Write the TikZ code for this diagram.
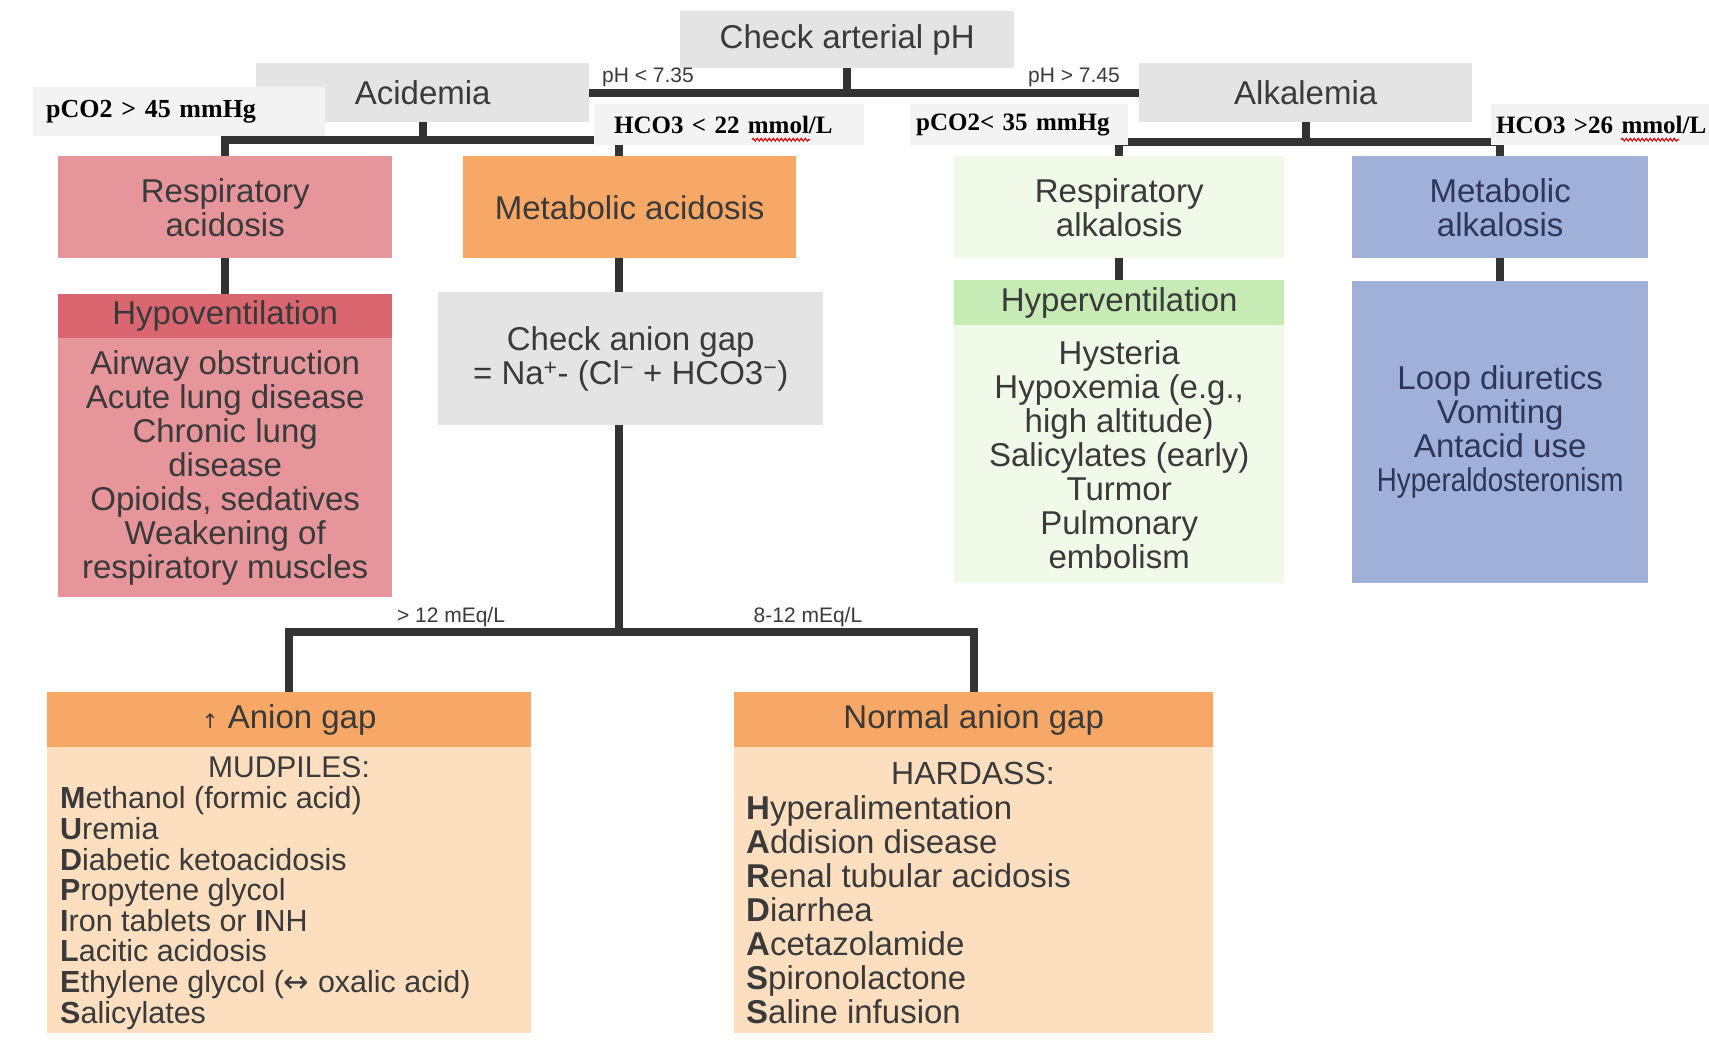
\documentclass[tikz,border=0pt]{standalone}
\usepackage{fontspec}
\setmainfont{Liberation Sans}
\newfontfamily\serifb{Liberation Serif}[BoldFont={Liberation Serif Bold}]
\newfontfamily\dejavu{DejaVu Sans}
\usetikzlibrary{decorations.pathmorphing}
\pgfdeclarelayer{background}
\pgfsetlayers{background,main}
\definecolor{boxgray}{HTML}{E4E4E4}
\definecolor{labgray}{HTML}{F3F3F3}
\definecolor{pinkbox}{HTML}{E6959B}
\definecolor{pinkhead}{HTML}{DA6670}
\definecolor{orangebox}{HTML}{F7A766}
\definecolor{peach}{HTML}{FDDFBF}
\definecolor{greenlight}{HTML}{F1FAE9}
\definecolor{greenhead}{HTML}{C7EBB5}
\definecolor{bluebox}{HTML}{A0B0D9}
\definecolor{txt}{HTML}{3A3A3A}
\definecolor{bluetxt}{HTML}{2D3658}
\definecolor{linecol}{HTML}{333333}
\begin{document}
\begin{tikzpicture}[x=1pt,y=-1pt,
  box/.style={inner sep=0pt, anchor=north west, align=center, text=txt,
    font=\fontsize{33}{34}\selectfont},
  lab/.style={fill=labgray, anchor=north west, inner ysep=0pt, align=left,
    text=black, font=\serifb\bfseries\fontsize{25}{26}\selectfont},
  small/.style={text=txt, font=\fontsize{21}{22}\selectfont, inner sep=0pt},
  conn/.style={line width=8pt, draw=linecol, line cap=rect, line join=miter},
  wavy/.style={draw=red!85!black, line width=1.1pt, decorate,
    decoration={snake, amplitude=1.4pt, segment length=4pt}}]
\useasboundingbox (0,0) rectangle (1709,1061);

% top level
\node[box, fill=boxgray, minimum width=334, minimum height=57] (ph) at (680,11) {Check arterial pH};
\node[box, fill=boxgray, minimum width=333, minimum height=59] (acid) at (256,63) {Acidemia};
\node[box, fill=boxgray, minimum width=333, minimum height=59] (alk) at (1139,63) {Alkalemia};

\node[small] (phlow) at (648,77) {pH < 7.35};
\node[small] (phhigh) at (1074,77) {pH > 7.45};

% second row
\node[box, fill=pinkbox, minimum width=334, minimum height=102] (ra) at (58,156) {Respiratory\\acidosis};
\node[box, fill=orangebox, minimum width=333, minimum height=102] (ma) at (463,156) {Metabolic acidosis};
\node[box, fill=greenlight, minimum width=330, minimum height=102] (ral) at (954,156) {Respiratory\\alkalosis};
\node[box, fill=bluebox, text=bluetxt, minimum width=296, minimum height=102] (mal) at (1352,156) {Metabolic\\alkalosis};

% third row
\node[box, fill=pinkhead, minimum width=334, minimum height=44] (hypoH) at (58,294) {Hypoventilation};
\node[box, fill=pinkbox, minimum width=334, minimum height=259] (hypoB) at (58,338)
  {Airway obstruction\\Acute lung disease\\Chronic lung\\disease\\Opioids, sedatives\\Weakening of\\respiratory muscles};
\node[box, fill=boxgray, minimum width=385, minimum height=133] (cag) at (438,292)
  {Check anion gap\\= Na\textsuperscript{+}- (Cl\textsuperscript{−} + HCO3\textsuperscript{−})};
\node[box, fill=greenhead, minimum width=330, minimum height=45] (hyperH) at (954,280) {Hyperventilation};
\node[box, fill=greenlight, minimum width=330, minimum height=258] (hyperB) at (954,325)
  {Hysteria\\Hypoxemia (e.g.,\\high altitude)\\Salicylates (early)\\Turmor\\Pulmonary\\embolism};
\node[box, fill=bluebox, text=bluetxt, minimum width=296, minimum height=302] (malB) at (1352,281)
  {Loop diuretics\\Vomiting\\Antacid use\\\scalebox{0.84}[1]{Hyperaldosteronism}};

% anion gap branches
\node[small] (gt12) at (451,617) {> 12 mEq/L};
\node[small] (n812) at (808,617) {8-12 mEq/L};

\node[box, fill=orangebox, minimum width=484, minimum height=55] (agH) at (47,692)
  {{\dejavu\fontsize{20}{20}\selectfont ↑} Anion gap};
\node[box, fill=peach, minimum width=484, minimum height=286] (agB) at (47,747) {};
\node[text=txt, font=\fontsize{30}{31}\selectfont, inner sep=0pt] (mud) at (289,767) {MUDPILES:};
\node[text=txt, font=\fontsize{30.5}{30.6}\selectfont, inner sep=0pt, align=left, anchor=west] (mudlist) at (60,908)
  {\textbf{M}ethanol (formic acid)\\\textbf{U}remia\\\textbf{D}iabetic ketoacidosis\\\textbf{P}ropytene glycol\\\textbf{I}ron tablets or \textbf{I}NH\\\textbf{L}acitic acidosis\\\textbf{E}thylene glycol ({\dejavu ↔} oxalic acid)\\\textbf{S}alicylates};

\node[box, fill=orangebox, minimum width=479, minimum height=55] (nagH) at (734,692) {Normal anion gap};
\node[box, fill=peach, minimum width=479, minimum height=286] (nagB) at (734,747) {};
\node[text=txt, font=\fontsize{32}{33}\selectfont, inner sep=0pt] (hard) at (973,773) {HARDASS:};
\node[text=txt, font=\fontsize{33}{34}\selectfont, inner sep=0pt, align=left, anchor=west] (hardlist) at (746,910)
  {\textbf{H}yperalimentation\\\textbf{A}ddision disease\\\textbf{R}enal tubular acidosis\\\textbf{D}iarrhea\\\textbf{A}cetazolamide\\\textbf{S}pironolactone\\\textbf{S}aline infusion};

% serif labels on top
\node[lab, minimum width=292, minimum height=49, text width=266, inner xsep=13, font=\serifb\bfseries\fontsize{26}{27}\selectfont] (l1) at (33,87) {pCO2 > 45 mmHg};
\node[lab, minimum width=270, minimum height=41, text width=230, inner xsep=20] (l2) at (594,104) {HCO3 < 22 mmol/L};
\node[lab, minimum width=218, minimum height=41, text width=206, inner xsep=6] (l3) at (910,104) {pCO2< 35 mmHg};
\node[lab, minimum width=240, minimum height=41, text width=230, inner xsep=5] (l4) at (1491,104) {HCO3 >26 mmol/L};
\draw[wavy] (l2.west) ++(158,15) -- ++(58,0);
\draw[wavy] (l4.west) ++(130,15) -- ++(58,0);

% connectors
\coordinate (abar) at (0,140);
\coordinate (kbar) at (0,142);
\coordinate (agbar) at (0,632);
\coordinate (spine) at (619,0);
\begin{pgfonlayer}{background}
\fill[white] (0,0) rectangle (1709,1061);
\draw[conn] (ph.south) -- (ph.south |- acid.east);
\draw[conn] (acid.east) -- (alk.west);
\draw[conn] (acid.south) -- (acid.south |- abar);
\draw[conn] (ra.north) -- (ra.north |- abar) -- (spine |- abar) -- (spine |- ma.north);
\draw[conn] (ra.south) -- (hypoH.north);
\draw[conn] (spine |- ma.south) -- (spine |- cag.north);
\draw[conn] (spine |- cag.south) -- (spine |- agbar);
\draw[conn] (agH.north) -- (agH.north |- agbar) -- (nagH.north |- agbar) -- (nagH.north);
\draw[conn] (alk.south) -- (alk.south |- kbar);
\draw[conn] (ral.north) -- (ral.north |- kbar) -- (mal.north |- kbar) -- (mal.north);
\draw[conn] (ral.south) -- (hyperH.north);
\draw[conn] (mal.south) -- (malB.north);
\end{pgfonlayer}
\end{tikzpicture}
\end{document}
